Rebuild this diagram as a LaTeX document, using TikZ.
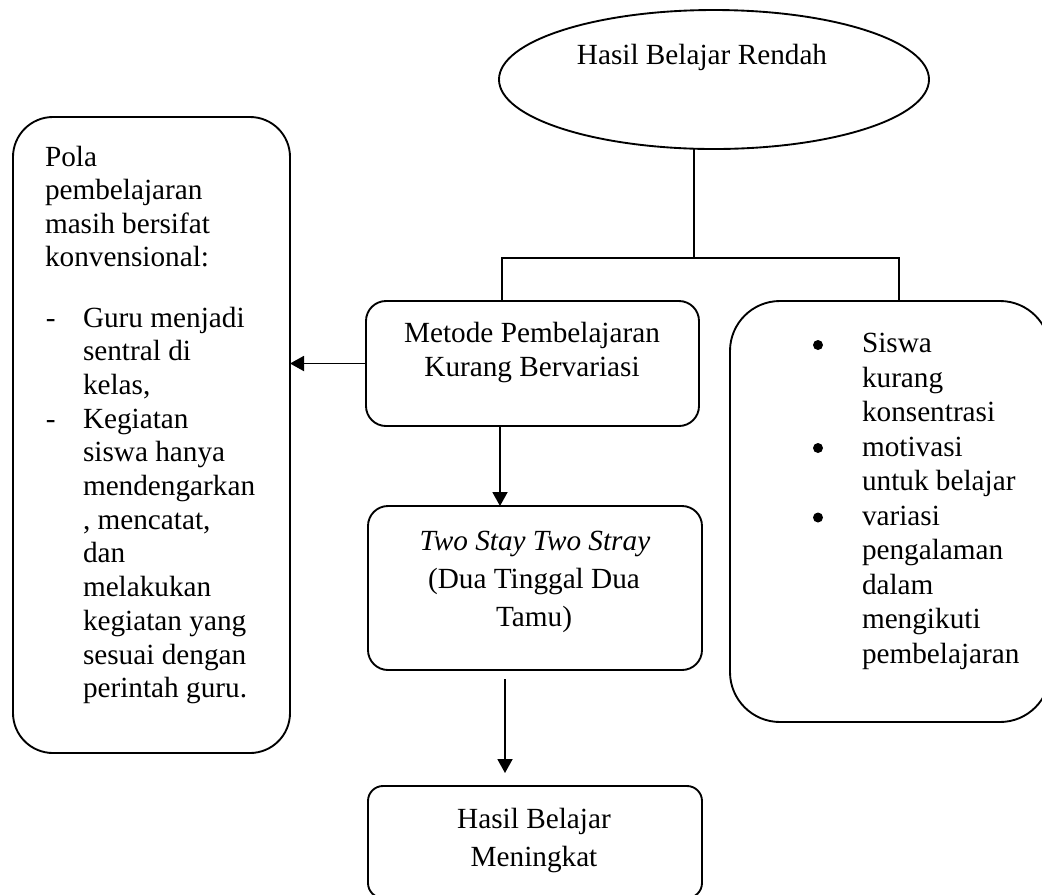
\documentclass[tikz,border=0pt]{standalone}
\usepackage{fontspec}
\setmainfont{Liberation Serif}
\usetikzlibrary{arrows.meta,shapes.geometric}
\tikzset{
  box/.style={draw, rectangle, line width=0.75pt, inner sep=0pt, outer sep=0pt},
  oval/.style={draw, ellipse, line width=0.75pt, inner sep=0pt, outer sep=0pt},
  txt/.style={inner sep=0pt, outer sep=0pt, font=\fontsize{11.7pt}{13.5pt}\selectfont},
  ctxt/.style={txt, anchor=base},
  ltxt/.style={txt, anchor=base west},
  bul/.style={circle, fill=black, inner sep=0pt, minimum size=4pt},
  link/.style={line width=0.75pt},
  arr/.style={line width=0.75pt, -{Triangle[length=5.6pt,width=6pt]}},
}
\begin{document}
\begin{tikzpicture}[x=0.4pt,y=-0.4pt]
\useasboundingbox (0,0) rectangle (1042,895);
\clip (0,0) rectangle (1042,895);

% shapes
\node[oval, minimum width=172pt, minimum height=55.6pt] (E) at (714,79.5) {};
\node[box, rounded corners=16pt, minimum width=110.8pt, minimum height=254.4pt] (L) at (151.5,435) {};
\node[box, rounded corners=8pt, minimum width=133.2pt, minimum height=50pt] (M) at (532.5,363.5) {};
\node[box, rounded corners=8pt, minimum width=133.6pt, minimum height=65.6pt] (T) at (535,588) {};
\node[box, rounded corners=6pt, minimum width=133.6pt, minimum height=44.8pt] (B) at (535,842) {};
\node[box, rounded corners=20pt, minimum width=128pt, minimum height=168.4pt] (R) at (890,511.5) {};

% texts
\node[ctxt] (Et) at (702,64) {Hasil Belajar Rendah};

\foreach \t [count=\i from 0] in {Pola, pembelajaran, masih bersifat, konvensional:}
  \node[ltxt] (Lh\i) at (45,{166+33.5*\i}) {\t};
\node[ltxt] (Ld1) at (46,327) {-};
\foreach \t [count=\i from 0] in {Guru menjadi, sentral di, {kelas,}}
  \node[ltxt] (La\i) at (83,{327+33.7*\i}) {\t};
\node[ltxt] (Ld2) at (46,428.1) {-};
\foreach \t [count=\i from 0] in {Kegiatan, siswa hanya, mendengarkan, {, mencatat,}, dan, melakukan, kegiatan yang, sesuai dengan, perintah guru.}
  \node[ltxt] (Lb\i) at (83,{428.1+33.7*\i}) {\t};

\node[ctxt] (Mt1) at (532,342.7) {Metode Pembelajaran};
\node[ctxt] (Mt2) at (532,376.7) {Kurang Bervariasi};

\node[ctxt] (Tt1) at (535,550) {\itshape Two Stay Two Stray};
\node[ctxt] (Tt2) at (534,588.3) {(Dua Tinggal Dua};
\node[ctxt] (Tt3) at (534,626.7) {Tamu)};

\node[ctxt] (Bt1) at (534,828.3) {Hasil Belajar};
\node[ctxt] (Bt2) at (534,866) {Meningkat};

\foreach \t [count=\i from 0] in {Siswa, kurang, konsentrasi, motivasi, untuk belajar, variasi, pengalaman, dalam, mengikuti, pembelajaran}
  \node[ltxt] (Rt\i) at (862,{352.7+34.5*\i}) {\t};
\node[bul] (Rb1) at (818,345) {};
\node[bul] (Rb2) at (818,448) {};
\node[bul] (Rb3) at (818,517.5) {};

% connectors
\coordinate (jc) at (694,258);
\coordinate (jl) at (502,258);
\coordinate (jr) at (899,258);
\draw[link] (jc |- E.south) -- (jc);
\draw[link] (jl |- M.north) -- (jl) -- (jr) -- (jr |- R.north);
\draw[arr] (M.west) -- (M.west -| L.east);
\coordinate (a1) at (500,0);
\draw[arr] (M.south -| a1) -- (T.north -| a1);
\coordinate (a2) at (505,0);
\draw[arr, shorten <=3.6pt, shorten >=5.2pt] (T.south -| a2) -- (B.north -| a2);
\end{tikzpicture}
\end{document}
